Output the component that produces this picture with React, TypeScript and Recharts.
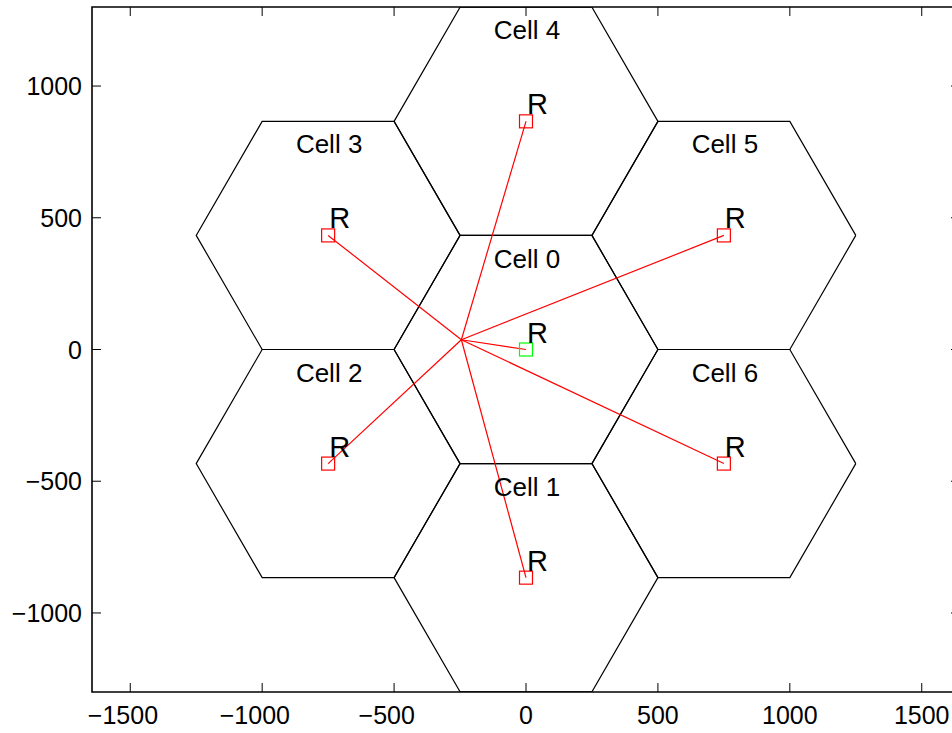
import React from 'react';
import { ScatterChart, Scatter, XAxis, YAxis, ReferenceArea } from 'recharts';

// cell layout (hexagon radius 500)
const CELL_NAMES = ['Cell 0', 'Cell 1', 'Cell 2', 'Cell 3', 'Cell 4', 'Cell 5', 'Cell 6'];
const CELL_X = [0, 0, -750, -750, 0, 750, 750];
const CELL_Y = [0, -866, -433, 433, 866, 433, -433];

// hexagon corner offsets from a cell centre
const HEX_DX = [500, 250, -250, -500, -250, 250];
const HEX_DY = [0, 433, 433, 0, -433, -433];

// mobile position
const USER_X = -245;
const USER_Y = 37;

const X_TICKS = [-1500, -1000, -500, 0, 500, 1000, 1500];
const Y_TICKS = [-1000, -500, 0, 500, 1000];
const X_DOMAIN = [-1645, 1645];
const Y_DOMAIN = [-1300, 1300];

const FONT = '"Liberation Sans", Arial, sans-serif';
const PLOT_TOP = 7;
const PLOT_RIGHT = 960;
const TICK_LEN = 9;

const cells = CELL_NAMES.map((name, i) => ({ name, x: CELL_X[i], y: CELL_Y[i] }));

const hexagons = cells.map(c => {
  const pts = HEX_DX.map((dx, k) => ({ x: c.x + dx, y: c.y + HEX_DY[k] }));
  return [...pts, pts[0]];
});

const links = cells.map(c => [{ x: USER_X, y: USER_Y }, { x: c.x, y: c.y }]);

const minus = (v: number) => (v < 0 ? '\u2212' + Math.abs(v) : String(v));

const XTick = (props: any) => {
  const { x, y, payload } = props;
  const digits = String(Math.abs(payload.value));
  const half = (digits.length * 0.556 * 25) / 2;
  return (
    <g>
      <line x1={x} y1={y} x2={x} y2={y - TICK_LEN} stroke="#000" />
      <line x1={x} y1={PLOT_TOP} x2={x} y2={PLOT_TOP + TICK_LEN} stroke="#000" />
      <text x={x + half} y={y + 32} textAnchor="end" fontSize={25} fontFamily={FONT} fill="#000">
        {minus(payload.value)}
      </text>
    </g>
  );
};

const YTick = (props: any) => {
  const { x, y, payload } = props;
  return (
    <g>
      <line x1={x} y1={y} x2={x + TICK_LEN} y2={y} stroke="#000" />
      <line x1={PLOT_RIGHT - TICK_LEN} y1={y} x2={PLOT_RIGHT} y2={y} stroke="#000" />
      <text x={x - 10} y={y + 9} textAnchor="end" fontSize={25} fontFamily={FONT} fill="#000">
        {minus(payload.value)}
      </text>
    </g>
  );
};

const NoPoint = () => <g />;

const Marker = (color: string) => (props: any) => {
  const { cx, cy } = props;
  return (
    <g>
      <rect x={cx - 6.5} y={cy - 6.5} width={13} height={13} fill="none" stroke={color} strokeWidth={1.2} />
      <text x={cx + 1} y={cy - 7} fontSize={29} fontFamily={FONT} fill="#000">R</text>
    </g>
  );
};

const CellLabel = (props: any) => {
  const { cx, cy, payload } = props;
  return (
    <text x={cx + 1} y={cy - 82} textAnchor="middle" fontSize={26} fontFamily={FONT} fill="#000">
      {payload.name}
    </text>
  );
};

export default function App() {
  return (
    <div style={{ position: 'absolute', left: 0, top: 0, width: 952, height: 733, overflow: 'hidden', background: '#fff' }}>
      <ScatterChart width={970} height={733} margin={{ top: PLOT_TOP, right: 10, bottom: 0, left: 0 }}>
        <XAxis
          type="number"
          dataKey="x"
          domain={X_DOMAIN}
          ticks={X_TICKS}
          interval={0}
          allowDataOverflow
          height={41}
          tickSize={0}
          tickMargin={0}
          tickLine={false}
          axisLine={false}
          tick={<XTick />}
        />
        <YAxis
          type="number"
          dataKey="y"
          domain={Y_DOMAIN}
          ticks={Y_TICKS}
          interval={0}
          allowDataOverflow
          width={92}
          tickSize={0}
          tickMargin={0}
          tickLine={false}
          axisLine={false}
          tick={<YTick />}
        />
        <ReferenceArea
          x1={X_DOMAIN[0]}
          x2={X_DOMAIN[1]}
          y1={Y_DOMAIN[0]}
          y2={Y_DOMAIN[1]}
          fill="none"
          fillOpacity={0}
          stroke="#000"
          strokeWidth={1.6}
        />
        {hexagons.map((hex, i) => (
          <Scatter
            key={`hex-${i}`}
            data={hex}
            line={{ stroke: '#000', strokeWidth: 1.2 }}
            lineType="joint"
            shape={NoPoint}
            isAnimationActive={false}
          />
        ))}
        {links.map((seg, i) => (
          <Scatter
            key={`link-${i}`}
            data={seg}
            line={{ stroke: '#ff0000', strokeWidth: 1.2 }}
            lineType="joint"
            shape={NoPoint}
            isAnimationActive={false}
          />
        ))}
        <Scatter data={cells} shape={CellLabel} isAnimationActive={false} />
        <Scatter data={cells.slice(1)} shape={Marker('#ff0000')} isAnimationActive={false} />
        <Scatter data={cells.slice(0, 1)} shape={Marker('#00ff00')} isAnimationActive={false} />
      </ScatterChart>
    </div>
  );
}
